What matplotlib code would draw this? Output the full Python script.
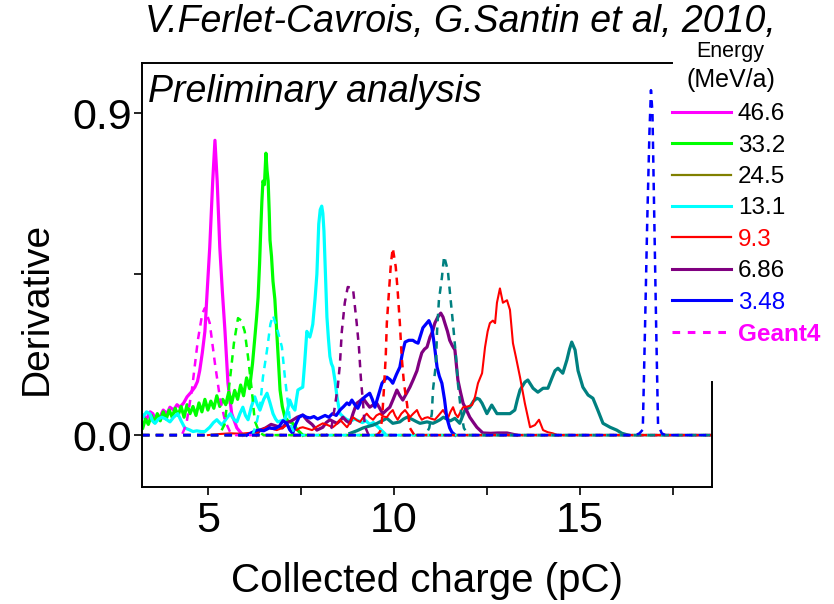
import matplotlib
matplotlib.use('Agg')
import matplotlib.pyplot as plt
from matplotlib.lines import Line2D
from matplotlib.ticker import FixedLocator

plt.rcParams['font.family'] = ['Liberation Sans', 'DejaVu Sans']

# measured curves (collected charge in pC, derivative)
m466_x = [3.25, 3.35, 3.45, 3.52, 3.6, 3.71, 3.8, 3.9, 3.98, 4.08, 4.17, 4.25, 4.35, 4.44, 4.55, 4.65,
          4.72, 4.78, 4.85, 4.92, 4.98, 5.05, 5.13, 5.19, 5.25, 5.32, 5.39, 5.46, 5.54, 5.64, 5.78, 5.94]
m466_y = [0.056, 0.045, 0.065, 0.06, 0.04, 0.05, 0.07, 0.06, 0.078, 0.07, 0.085, 0.078, 0.09, 0.107, 0.12, 0.134,
          0.15, 0.18, 0.23, 0.29, 0.4, 0.525, 0.71, 0.824, 0.71, 0.525, 0.4, 0.29, 0.145, 0.06, 0.02, 0.0]

m332_x = [3.25, 3.32, 3.4, 3.48, 3.56, 3.64, 3.72, 3.8, 3.88, 3.96, 4.04, 4.12, 4.2, 4.28, 4.36, 4.44, 4.52,
          4.6, 4.68, 4.76, 4.84, 4.92, 5.0, 5.08, 5.16, 5.24, 5.32, 5.4, 5.48, 5.56, 5.64, 5.72, 5.8, 5.88,
          5.96, 6.04, 6.12, 6.2, 6.26, 6.31, 6.35, 6.39, 6.42, 6.45, 6.48, 6.52, 6.56, 6.59, 6.62, 6.65,
          6.67, 6.71, 6.75, 6.8, 6.85, 6.9, 6.94, 7.0, 7.07, 7.15, 7.28, 7.4, 7.55]
m332_y = [0.02, 0.045, 0.03, 0.055, 0.035, 0.06, 0.04, 0.065, 0.045, 0.07, 0.05, 0.075, 0.055, 0.08, 0.05,
          0.085, 0.06, 0.08, 0.055, 0.09, 0.065, 0.1, 0.07, 0.095, 0.075, 0.11, 0.08, 0.1, 0.085, 0.12, 0.09,
          0.125, 0.1, 0.14, 0.11, 0.16, 0.13, 0.2, 0.27, 0.33, 0.385, 0.48, 0.57, 0.65, 0.71, 0.7, 0.788,
          0.74, 0.71, 0.62, 0.545, 0.5, 0.43, 0.38, 0.29, 0.2, 0.126, 0.08, 0.05, 0.04, 0.033, 0.015, 0.0]

m131_x = [3.25, 3.35, 3.44, 3.51, 3.58, 3.67, 3.76, 3.87, 3.98, 4.08, 4.19, 4.28, 4.38, 4.5, 4.6, 4.7, 4.82,
          4.92, 5.05, 5.15, 5.24, 5.31, 5.38, 5.49, 5.6, 5.69, 5.78, 5.86, 5.94, 6.01, 6.08, 6.17, 6.26,
          6.33, 6.4, 6.5, 6.59, 6.67, 6.75, 6.82, 6.88, 6.97, 7.07, 7.14, 7.2, 7.27, 7.34, 7.38, 7.42, 7.48,
          7.55, 7.6, 7.66, 7.7, 7.74, 7.78, 7.82, 7.88, 7.93, 7.98, 8.02, 8.06, 8.09, 8.12, 8.16, 8.2, 8.24,
          8.28, 8.32, 8.36, 8.42, 8.47, 8.55, 8.65, 8.74, 8.85, 8.95, 9.05, 9.15, 9.25, 9.35, 9.45, 9.55,
          9.65, 9.75]
m131_y = [0.05, 0.065, 0.06, 0.04, 0.033, 0.045, 0.05, 0.045, 0.037, 0.05, 0.06, 0.04, 0.02, 0.015, 0.01,
          0.012, 0.01, 0.01, 0.022, 0.035, 0.043, 0.035, 0.028, 0.045, 0.06, 0.045, 0.037, 0.06, 0.078,
          0.055, 0.043, 0.08, 0.107, 0.085, 0.07, 0.1, 0.117, 0.09, 0.06, 0.045, 0.037, 0.04, 0.043, 0.07,
          0.098, 0.08, 0.07, 0.1, 0.126, 0.13, 0.134, 0.2, 0.29, 0.28, 0.274, 0.29, 0.31, 0.38, 0.45, 0.59,
          0.63, 0.64, 0.62, 0.57, 0.45, 0.33, 0.27, 0.22, 0.2, 0.19, 0.15, 0.107, 0.06, 0.05, 0.043, 0.04,
          0.045, 0.04, 0.035, 0.04, 0.03, 0.035, 0.025, 0.015, 0.005]

m93_x = [5.0, 5.3, 5.6, 5.9, 6.1, 6.32, 6.45, 6.59, 6.72, 6.85, 7.0, 7.12, 7.25, 7.39, 7.47, 7.55, 7.68, 7.8,
         7.95, 8.09, 8.22, 8.36, 8.45, 8.55, 8.65, 8.74, 8.82, 8.9, 9.0, 9.09, 9.18, 9.27, 9.35, 9.44, 9.53,
         9.62, 9.72, 9.81, 9.89, 9.97, 10.03, 10.1, 10.2, 10.3, 10.37, 10.43, 10.52, 10.62, 10.68, 10.75,
         10.83, 10.91, 11.0, 11.1, 11.2, 11.32, 11.38, 11.45, 11.52, 11.59, 11.65, 11.72, 11.79, 11.86,
         11.98, 12.1, 12.18, 12.26, 12.37, 12.45, 12.52, 12.58, 12.66, 12.72, 12.77, 12.85, 12.93, 13.04,
         13.12, 13.2, 13.28, 13.39, 13.52, 13.66, 13.79, 13.9, 14.01, 14.14, 14.27, 14.4]
m93_y = [0.0, 0.003, 0.005, 0.004, 0.006, 0.008, 0.015, 0.022, 0.018, 0.014, 0.02, 0.028, 0.02, 0.014, 0.02,
         0.022, 0.018, 0.014, 0.025, 0.033, 0.028, 0.022, 0.03, 0.043, 0.032, 0.022, 0.035, 0.05, 0.042,
         0.037, 0.05, 0.06, 0.05, 0.043, 0.055, 0.06, 0.052, 0.05, 0.062, 0.07, 0.055, 0.043, 0.06, 0.07,
         0.06, 0.05, 0.06, 0.07, 0.055, 0.043, 0.048, 0.05, 0.046, 0.043, 0.055, 0.07, 0.06, 0.047, 0.065,
         0.078, 0.06, 0.05, 0.065, 0.078, 0.08, 0.084, 0.107, 0.145, 0.173, 0.246, 0.29, 0.313, 0.32,
         0.313, 0.37, 0.41, 0.37, 0.377, 0.35, 0.257, 0.218, 0.162, 0.089, 0.022, 0.028, 0.043, 0.014,
         0.008, 0.005, 0.0]

m686_x = [6.3, 6.4, 6.55, 6.7, 6.85, 7.0, 7.12, 7.25, 7.4, 7.55, 7.68, 7.8, 7.93, 8.09, 8.18, 8.28, 8.37,
          8.47, 8.55, 8.63, 8.72, 8.82, 8.9, 9.0, 9.08, 9.17, 9.26, 9.35, 9.45, 9.54, 9.62, 9.7, 9.8, 9.89,
          9.98, 10.08, 10.16, 10.24, 10.33, 10.43, 10.52, 10.62, 10.68, 10.75, 10.82, 10.89, 10.97, 11.04,
          11.1, 11.18, 11.26, 11.32, 11.37, 11.44, 11.5, 11.57, 11.64, 11.72, 11.79, 11.86, 11.95, 12.04,
          12.14, 12.23, 12.39, 12.6, 12.8, 13.04, 13.3]
m686_y = [0.0, 0.014, 0.02, 0.03, 0.025, 0.02, 0.035, 0.04, 0.05, 0.056, 0.04, 0.03, 0.014, 0.022, 0.035,
          0.043, 0.038, 0.033, 0.04, 0.05, 0.04, 0.033, 0.06, 0.089, 0.095, 0.103, 0.09, 0.078, 0.085,
          0.089, 0.075, 0.06, 0.07, 0.078, 0.1, 0.126, 0.11, 0.098, 0.115, 0.134, 0.155, 0.18, 0.205, 0.23,
          0.24, 0.246, 0.274, 0.29, 0.313, 0.33, 0.341, 0.33, 0.313, 0.29, 0.265, 0.25, 0.238, 0.154, 0.12,
          0.089, 0.07, 0.05, 0.035, 0.022, 0.006, 0.005, 0.006, 0.006, 0.0]

m348_x = [6.05, 6.2, 6.35, 6.5, 6.65, 6.8, 6.92, 7.02, 7.12, 7.2, 7.28, 7.36, 7.45, 7.55, 7.65, 7.75, 7.85,
          7.95, 8.05, 8.15, 8.25, 8.35, 8.45, 8.55, 8.65, 8.74, 8.8, 8.87, 8.95, 9.03, 9.12, 9.22, 9.35,
          9.42, 9.49, 9.58, 9.68, 9.81, 9.9, 9.97, 10.07, 10.16, 10.23, 10.3, 10.4, 10.51, 10.58, 10.65,
          10.72, 10.78, 10.86, 10.94, 11.02, 11.09, 11.16, 11.22, 11.29, 11.36, 11.42, 11.5, 11.56, 11.65]
m348_y = [0.0, 0.008, 0.015, 0.012, 0.02, 0.018, 0.025, 0.04, 0.033, 0.015, 0.005, 0.03, 0.05, 0.056, 0.05,
          0.048, 0.052, 0.045, 0.05, 0.055, 0.05, 0.06, 0.055, 0.07, 0.08, 0.09, 0.085, 0.098, 0.085, 0.075,
          0.095, 0.107, 0.117, 0.1, 0.078, 0.11, 0.145, 0.162, 0.155, 0.145, 0.17, 0.19, 0.23, 0.26, 0.265,
          0.265, 0.26, 0.257, 0.28, 0.30, 0.31, 0.32, 0.30, 0.25, 0.19, 0.165, 0.145, 0.1, 0.05, 0.02,
          0.008, 0.0]

teal_x = [8.82, 9.0, 9.17, 9.3, 9.44, 9.53, 9.62, 9.72, 9.81, 9.89, 9.97, 10.07, 10.16, 10.26, 10.35, 10.43,
          10.51, 10.6, 10.7, 10.8, 10.89, 10.97, 11.05, 11.15, 11.24, 11.33, 11.42, 11.52, 11.64, 11.77,
          11.91, 12.04, 12.14, 12.23, 12.3, 12.37, 12.5, 12.63, 12.77, 12.93, 13.12, 13.25, 13.32, 13.39,
          13.52, 13.6, 13.74, 13.87, 14.01, 14.14, 14.25, 14.33, 14.41, 14.54, 14.65, 14.72, 14.78, 14.87,
          14.95, 15.08, 15.22, 15.35, 15.48, 15.62, 15.81, 15.99, 16.13, 16.3]
teal_y = [0.005, 0.012, 0.02, 0.024, 0.028, 0.032, 0.037, 0.042, 0.047, 0.04, 0.033, 0.035, 0.037, 0.045,
          0.05, 0.047, 0.043, 0.038, 0.033, 0.035, 0.037, 0.035, 0.033, 0.038, 0.043, 0.05, 0.045, 0.04,
          0.047, 0.033, 0.07, 0.078, 0.095, 0.103, 0.1, 0.089, 0.06, 0.084, 0.06, 0.06, 0.06, 0.07, 0.1,
          0.126, 0.148, 0.154, 0.131, 0.12, 0.131, 0.131, 0.16, 0.18, 0.187, 0.173, 0.21, 0.24, 0.26, 0.238,
          0.18, 0.134, 0.112, 0.103, 0.07, 0.033, 0.022, 0.014, 0.005, 0.0]

# Geant4 simulated curves (zero outside the peak)
g466_x = [3.23, 4.3, 4.42, 4.57, 4.73, 4.85, 4.92, 5.05, 5.19, 5.32, 5.46, 5.6, 5.75, 18.55]
g466_y = [0.0, 0.0, 0.03, 0.126, 0.265, 0.34, 0.355, 0.313, 0.2, 0.107, 0.04, 0.008, 0.0, 0.0]
g332_x = [3.23, 5.3, 5.45, 5.6, 5.7, 5.81, 5.9, 5.99, 6.08, 6.18, 6.26, 6.38, 6.5, 18.55]
g332_y = [0.0, 0.0, 0.03, 0.162, 0.257, 0.327, 0.32, 0.29, 0.218, 0.126, 0.04, 0.008, 0.0, 0.0]
g131_x = [3.23, 6.2, 6.3, 6.4, 6.48, 6.59, 6.68, 6.75, 6.88, 6.99, 7.07, 7.15, 7.22, 7.35, 18.55]
g131_y = [0.0, 0.0, 0.03, 0.078, 0.162, 0.238, 0.31, 0.335, 0.29, 0.246, 0.162, 0.09, 0.03, 0.0, 0.0]
g686_x = [3.23, 8.2, 8.32, 8.41, 8.49, 8.55, 8.6, 8.68, 8.76, 8.9, 9.0, 9.06, 9.11, 9.17, 9.22, 9.32, 18.55]
g686_y = [0.0, 0.0, 0.02, 0.078, 0.134, 0.2, 0.29, 0.37, 0.414, 0.41, 0.313, 0.246, 0.162, 0.089, 0.025,
          0.0, 0.0]
g93_x = [3.23, 9.55, 9.63, 9.68, 9.73, 9.78, 9.81, 9.87, 9.92, 9.97, 10.05, 10.1, 10.16, 10.21, 10.27, 10.35,
         10.43, 10.55, 18.55]
g93_y = [0.0, 0.0, 0.01, 0.043, 0.126, 0.218, 0.313, 0.405, 0.48, 0.523, 0.47, 0.405, 0.313, 0.218, 0.145,
         0.089, 0.02, 0.0, 0.0]
gteal_x = [3.23, 10.85, 10.95, 11.02, 11.05, 11.13, 11.16, 11.21, 11.29, 11.35, 11.45, 11.5, 11.59, 11.67,
           11.72, 11.8, 11.88, 12.0, 18.55]
gteal_y = [0.0, 0.0, 0.02, 0.06, 0.126, 0.2, 0.29, 0.377, 0.44, 0.5, 0.46, 0.405, 0.31, 0.218, 0.145, 0.07,
           0.02, 0.0, 0.0]
g348_x = [3.23, 16.5, 16.6, 16.69, 16.75, 16.81, 16.87, 16.91, 16.95, 17.0, 17.05, 17.1, 17.2, 17.3, 18.55]
g348_y = [0.0, 0.0, 0.005, 0.015, 0.3, 0.6, 0.85, 0.964, 0.9, 0.6, 0.3, 0.03, 0.005, 0.0, 0.0]

energies = ['46.6', '33.2', '24.5', '13.1', '9.3', '6.86', '3.48']
colors = ['#FF00FF', '#00FF00', '#808000', '#00FFFF', '#FF0000', '#800080', '#0000FF']
label_colors = ['black', 'black', 'black', 'black', '#FF0000', 'black', '#0000FF']

fig = plt.figure(figsize=(8.34, 6.04), dpi=100)
ax = fig.add_axes([0.1703, 0.1937, 0.6834, 0.702])

ax.plot(m466_x, m466_y, color='#FF00FF', lw=2.3)
ax.plot(m332_x, m332_y, color='#00FF00', lw=2.3)
ax.plot(m131_x, m131_y, color='#00FFFF', lw=2.3)
ax.plot(teal_x, teal_y, color='#008080', lw=2.3)
ax.plot(m686_x, m686_y, color='#800080', lw=2.3)
ax.plot(m93_x, m93_y, color='#FF0000', lw=1.5)
ax.plot(m348_x, m348_y, color='#0000FF', lw=2.3)

dash = (3, 2.5)
ax.plot(g466_x, g466_y, color='#FF00FF', lw=1.8, dashes=dash)
ax.plot(g332_x, g332_y, color='#00FF00', lw=1.8, dashes=dash)
ax.plot(g131_x, g131_y, color='#00FFFF', lw=1.8, dashes=dash)
ax.plot(g686_x, g686_y, color='#800080', lw=1.8, dashes=dash)
ax.plot(g93_x, g93_y, color='#FF0000', lw=1.8, dashes=dash)
ax.plot(gteal_x, gteal_y, color='#008080', lw=1.8, dashes=dash)
ax.plot(g348_x, g348_y, color='#0000FF', lw=1.8, dashes=dash)

ax.set_xlim(3.23, 18.55)
ax.set_ylim(-0.145, 1.04)
ax.set_xticks([5, 10, 15])
ax.xaxis.set_minor_locator(FixedLocator([7.5, 12.5, 17.5]))
ax.set_yticks([0.0, 0.9])
ax.set_yticklabels(['0.0', '0.9'])
ax.yaxis.set_minor_locator(FixedLocator([0.45]))
ax.tick_params(which='both', direction='out', length=6, width=1.2, labelsize=31)
ax.tick_params(axis='y', pad=1)
ax.tick_params(axis='x', pad=4)

for s in ax.spines.values():
    s.set_linewidth(1.4)
ax.spines['top'].set_bounds(3.23, 17.47)
ax.spines['right'].set_bounds(-0.145, 0.148)

ax.set_xlabel('Collected charge (pC)', fontsize=29)
ax.xaxis.set_label_coords(0.5, -0.178)
ax.set_ylabel('Derivative', fontsize=28)
ax.yaxis.set_label_coords(-0.153, 0.42)

ax.text(0.01, 0.975, 'Preliminary analysis', transform=ax.transAxes, fontsize=27,
        style='italic', va='top', ha='left')
fig.text(0.552, 0.934, 'V.Ferlet-Cavrois, G.Santin et al, 2010,', fontsize=27,
         style='italic', ha='center', va='bottom')
fig.text(0.876, 0.914, 'Energy', fontsize=15.5, ha='center', va='center')
fig.text(0.876, 0.868, '(MeV/a)', fontsize=18, ha='center', va='center')

handles = [Line2D([], [], color=c, lw=2.2 if c not in ('#FF0000', '#808000') else 1.6) for c in colors]
handles.append(Line2D([], [], color='#FF00FF', lw=2.2, dashes=(2.5, 2.5)))
leg = fig.legend(handles, energies + ['Geant4'], loc='upper left',
                 bbox_to_anchor=(0.806, 0.829), frameon=False, fontsize=17.5,
                 handlelength=2.4, handletextpad=0.3, labelspacing=0.385,
                 borderpad=0, borderaxespad=0)
for t, c in zip(leg.get_texts(), label_colors + ['#FF00FF']):
    t.set_color(c)
leg.get_texts()[-1].set_fontweight('bold')

fig.savefig('out.png', dpi=100)
